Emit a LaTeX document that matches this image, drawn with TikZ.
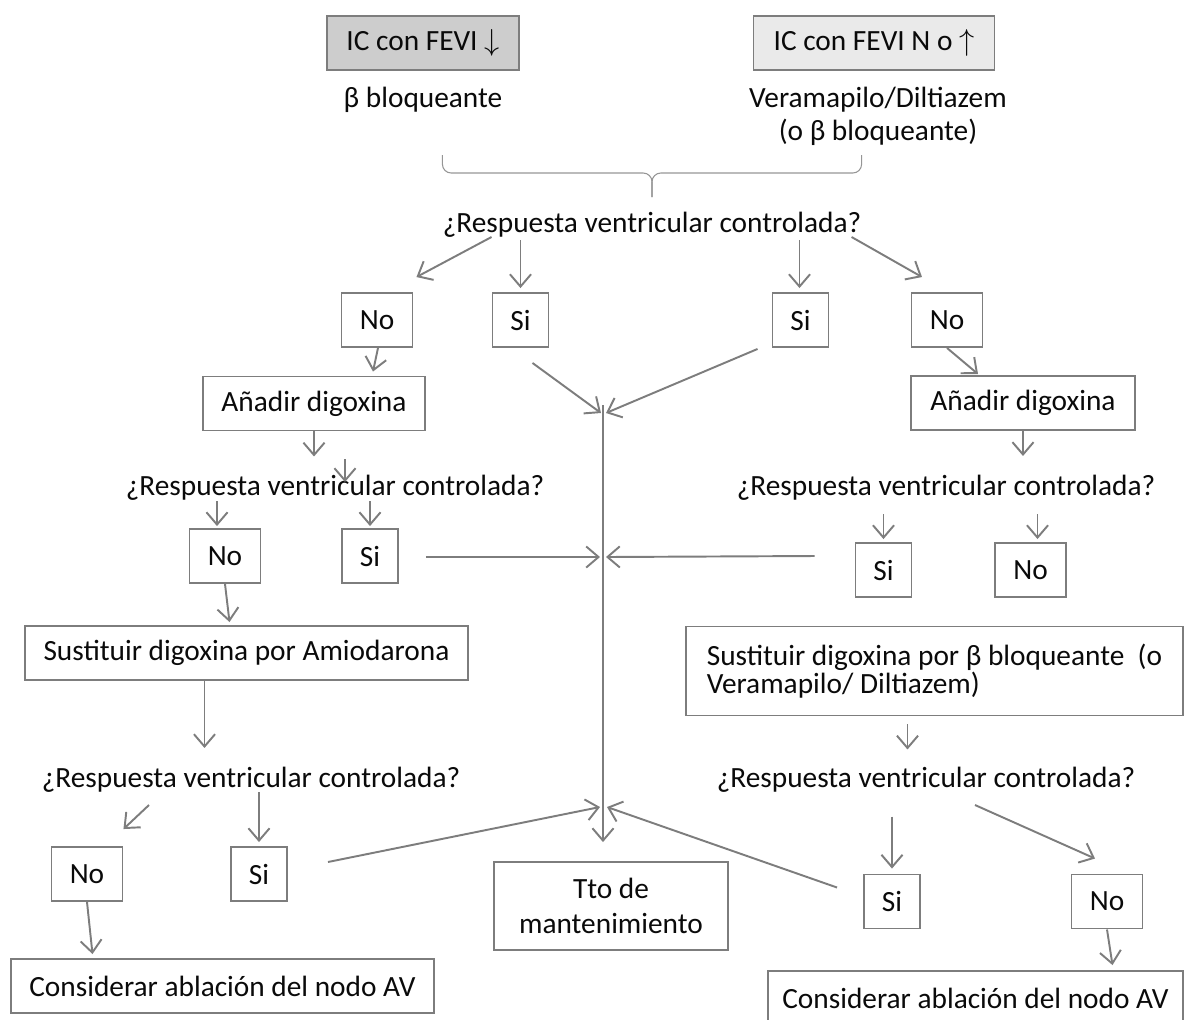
\documentclass[tikz,border=0pt]{standalone}
\usepackage{fontspec}
\setmainfont{Carlito}
\usetikzlibrary{arrows.meta,calc,positioning}
\definecolor{ArrowGray}{RGB}{125,125,125}
\definecolor{FeviDark}{RGB}{205,205,205}
\definecolor{FeviLight}{RGB}{234,234,234}
\definecolor{BraceGray}{RGB}{150,150,150}
\definecolor{TextBlack}{RGB}{10,10,10}

\begin{document}
\begin{tikzpicture}[x=.02cm,y=-.02cm,font=\fontsize{16.7pt}{20pt}\selectfont,text=TextBlack,
  caja/.style={draw=ArrowGray,line width=1.1pt,minimum height=1.08cm,inner sep=2pt},
  pregunta/.style={inner sep=0pt},
  flecha/.style={ArrowGray,line width=1.1pt,-{Straight Barb[length=7pt,width=12pt]}}]
\useasboundingbox (0,0) rectangle (1187,1019);
\node[caja,fill=FeviDark,minimum width=3.84cm] (feviA) at (423,43) {IC con FEVI $\downarrow$};
\node[caja,fill=FeviLight,minimum width=4.82cm] (feviB) at (874,43) {IC con FEVI N o $\uparrow$};
\node[pregunta] (betaA) at (423,100) {β bloqueante};
\node[pregunta,align=center,font=\fontsize{16.7pt}{18.7pt}\selectfont] (veraB) at (878,116) {Veramapilo/Diltiazem\\(o β bloqueante)};
\node[pregunta] (q1) at (652,225) {¿Respuesta ventricular controlada?};
\foreach \n/\x/\y in {noA/377/320,noB/947/320,noC/225/556,noD/1030.5/570,noE/87/874,noF/1107/901.5}{\node[caja,minimum width=1.42cm] (\n) at (\x,\y) {No};}
\foreach \n/\x/\y in {siA/520.5/320,siB/800.5/320,siC/370/556,siD/883.5/570,siE/259/874,siF/892/901.5}{\node[caja,minimum width=1.12cm] (\n) at (\x,\y) {Si};}
\node[caja,minimum width=4.44cm] (digA) at (314,403.5) {Añadir digoxina};
\node[caja,minimum width=4.48cm] (digB) at (1023,403) {Añadir digoxina};
\node[pregunta] (q2A) at (335,488) {¿Respuesta ventricular controlada?};
\node[pregunta] (q2B) at (946,488) {¿Respuesta ventricular controlada?};
\node[caja,minimum width=8.86cm] (sustA) at (246.5,653) {Sustituir digoxina por Amiodarona};
\node[caja,minimum width=9.94cm,minimum height=1.78cm,align=left,font=\fontsize{16.7pt}{16pt}\selectfont] (sustB) at (934.5,671) {Sustituir digoxina por β bloqueante~~(o\\Veramapilo/ Diltiazem)};
\node[pregunta] (q3A) at (251,780) {¿Respuesta ventricular controlada?};
\node[pregunta] (q3B) at (926,780) {¿Respuesta ventricular controlada?};
\node[caja,minimum width=4.68cm,minimum height=1.76cm,align=center,font=\fontsize{16.7pt}{19.8pt}\selectfont] (tto) at (611,906) {Tto de\\mantenimiento};
\node[caja,minimum width=8.46cm] (ablA) at (222.5,986) {Considerar ablación del nodo AV};
\node[caja,minimum width=8.3cm] (ablB) at (975.5,998) {Considerar ablación del nodo AV};
\coordinate (hub1) at (603,413);\coordinate (hub2) at (603,557);\coordinate (hub3) at (603,807);
\draw[BraceGray,line width=.6pt,rounded corners=5] ($(q1.north west)+(0,-57)$)--($(q1.north west)+(0,-39)$)--($(q1.north)+(0,-39)$)--($(q1.north)+(0,-15)$);
\draw[BraceGray,line width=.6pt,rounded corners=5] ($(q1.north east)+(0,-57)$)--($(q1.north east)+(0,-39)$)--($(q1.north)+(0,-39)$)--($(q1.north)+(0,-15)$);
\draw[flecha] ($(q1.south -| siA.west)+(0,-1)$)--($(noA.north east)+(3,-15)$);
\draw[flecha] ($(siA.north)+(0,-52)$)--($(siA.north)+(0,-4)$);
\draw[flecha] ($(siB.north)+(-1,-52)$)--($(siB.north)+(-1,-4)$);
\draw[flecha] ($(q1.south east)+(-10,-1)$)--($(noB.north)+(-25,-15)$);
\draw[flecha] ($(noA.south)+(1,0)$)--($(digA.north)+(59,-4)$);
\draw[flecha] (noB.south)--($(digB.north)+(-45,-1)$);
\draw[flecha] ($(siA.south)+(12,15)$)--($(hub1)+(-2,0)$);
\draw[flecha] ($(siB.south west)+(-14,1)$)--($(hub1)+(3,0)$);
\draw[flecha] (digA.south)--($(digA.south)+(0,25)$);
\draw[flecha] ($(q2A.north)+(10,-16)$)--($(q2A.north)+(10,7)$);
\draw[flecha] (digB.south)--($(digB.south)+(0,25)$);
\draw[flecha] ($(noC.north)+(-8,-27)$)--($(noC.north)+(-8,-2)$);
\draw[flecha] ($(siC.north)+(0,-27)$)--($(siC.north)+(0,-2)$);
\draw[flecha] ($(siD.north)+(0,-28)$)--($(siD.north)+(0,-3)$);
\draw[flecha] ($(noD.north)+(7,-28)$)--($(noD.north)+(7,-3)$);
\draw[flecha] ($(siC.east)+(27,1)$)--($(hub2)+(-3,0)$);
\draw[flecha] ($(siD.west)+(-40,-14)$)--($(hub2)+(3,0)$);
\draw[flecha] (noC.south)--($(sustA.north)+(-17,-3)$);
\draw[flecha] ($(sustA.south)+(-42,0)$)--($(sustA.south)+(-42,67)$);
\draw[flecha] ($(sustB.south)+(-27,8)$)--($(sustB.south)+(-27,33)$);
\draw[flecha] ($(q3A.south)+(-102,12)$)--($(noE.north east)+(0,-17)$);
\draw[flecha] ($(siE.north)+(0,-54)$)--($(siE.north)+(0,-4)$);
\draw[flecha] ($(siF.north)+(0,-57)$)--($(siF.north)+(0,-5)$);
\draw[flecha] ($(q3B.south)+(49,12)$)--($(noF.north)+(-12,-15)$);
\draw[flecha] ($(siE.east)+(40,-12)$)--($(hub3)+(-3,0)$);
\draw[flecha] ($(siF.west)+(-26,-14)$)--($(hub3)+(4,0)$);
\draw[flecha] (noE.south)--($(ablA.north)+(-130,-4)$);
\draw[flecha] (noF.south)--($(ablB.north)+(137,-5)$);
\draw[flecha] ($(hub1)+(0,-8)$)--($(tto.north -| hub1)+(0,-19)$);
\end{tikzpicture}
\end{document}
